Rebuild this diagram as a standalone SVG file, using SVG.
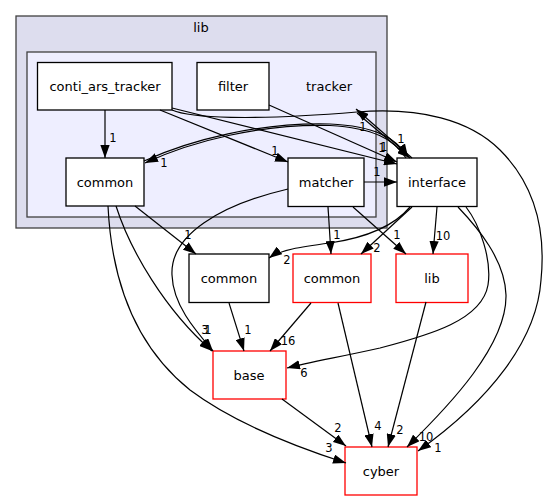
<svg xmlns="http://www.w3.org/2000/svg" width="548" height="500" viewBox="0 0 548 500">
<style>
.n{fill:#ffffff;stroke:#000000;stroke-width:1.3}
.r{fill:#ffffff;stroke:#ff0000;stroke-width:1.3}
.t{font-family:"DejaVu Sans",sans-serif;font-size:13px;fill:#000000;text-anchor:middle}
.l{font-family:"DejaVu Sans",sans-serif;font-size:11.5px;fill:#000000;text-anchor:middle}
.e{fill:none;stroke:#000000;stroke-width:1.2;marker-end:url(#ah)}
</style>
<defs>
<marker id="ah" viewBox="0 0 13 9.3" refX="13" refY="4.65" markerWidth="13" markerHeight="9.3" markerUnits="userSpaceOnUse" orient="auto">
<path d="M0,0 L13,4.65 L0,9.3 z" fill="#000000"/>
</marker>
</defs>
<g id="cluster_lib">
<rect x="16" y="16" width="371" height="212" fill="#ddddee" stroke="#404040" stroke-width="1.3"/>
<text class="t" x="201" y="32">lib</text>
</g>
<g id="cluster_tracker">
<rect x="27" y="52" width="349" height="165" fill="#eeeeff" stroke="#404040" stroke-width="1.3"/>
</g>
<g id="node_tracker"><text class="t" x="329" y="91">tracker</text></g>
<g id="node_conti_ars_tracker"><rect class="n" x="37.5" y="62.5" width="134.5" height="47.5"/><text class="t" x="105" y="91">conti_ars_tracker</text></g>
<g id="node_filter"><rect class="n" x="197" y="62.5" width="72" height="47.5"/><text class="t" x="233" y="91">filter</text></g>
<g id="node_common_inner"><rect class="n" x="66" y="158" width="78" height="48"/><text class="t" x="105" y="187">common</text></g>
<g id="node_matcher"><rect class="n" x="288" y="158" width="76" height="48.5"/><text class="t" x="326" y="187">matcher</text></g>
<g id="node_interface"><rect class="n" x="397" y="158" width="80" height="48.5"/><text class="t" x="437" y="187">interface</text></g>
<g id="node_common_radar"><rect class="n" x="189" y="254" width="80" height="48.5"/><text class="t" x="229" y="283">common</text></g>
<g id="node_common_perception"><rect class="r" x="293" y="254" width="78" height="48.5"/><text class="t" x="332" y="283">common</text></g>
<g id="node_lib"><rect class="r" x="396" y="254" width="72" height="48.5"/><text class="t" x="432" y="283">lib</text></g>
<g id="node_base"><rect class="r" x="213" y="351" width="73" height="48"/><text class="t" x="249" y="380">base</text></g>
<g id="node_cyber"><rect class="r" x="345" y="447" width="72" height="48"/><text class="t" x="381" y="476">cyber</text></g>
<g id="connectors">
<path class="e" d="M105,110 L105,158"/>
<text class="l" x="113" y="142">1</text>
<path class="e" d="M160,110 L288,162"/>
<text class="l" x="275" y="155">1</text>
<path class="e" d="M172,108 L397,164"/>
<text class="l" x="382" y="152">1</text>
<path class="e" d="M269,105 L397,162"/>
<text class="l" x="384" y="151">1</text>
<path class="e" d="M172,110 C190,118 250,121 357,112 C420,107 470,120 500,150 C540,190 545,240 541,280 C537,340 490,400 418,451"/>
<text class="l" x="438" y="452">1</text>
<path class="e" d="M144,161 C190,140 260,122 330,124 C375,126 396,138 408,157"/>
<path class="e" d="M406,158 C394,139 373,128 330,125.5 C262,123.5 192,141 145,163"/>
<text class="l" x="164" y="167">1</text>
<path class="e" d="M357,113 L410,158"/>
<text class="l" x="401" y="143">1</text>
<path class="e" d="M412,158 L356,109"/>
<text class="l" x="363" y="131">1</text>
<path class="e" d="M135,206 L196,254"/>
<text class="l" x="188" y="239">1</text>
<path class="e" d="M116,206 C130,250 165,310 212,351"/>
<text class="l" x="205" y="334">3</text>
<path class="e" d="M108,206 C112,290 140,350 190,390 C230,420 290,445 346,463"/>
<text class="l" x="329" y="452">3</text>
<path class="e" d="M364,182 L397,182"/>
<text class="l" x="377" y="176">1</text>
<path class="e" d="M328,207 L331,254"/>
<text class="l" x="337" y="239">1</text>
<path class="e" d="M353,207 L406,254"/>
<text class="l" x="397" y="239">1</text>
<path class="e" d="M288,189 C220,205 170,235 172,275 C173,305 195,330 213,351"/>
<text class="l" x="208" y="334">1</text>
<path class="e" d="M410,207 C395,225 370,237 330,243 C300,247 280,250 269,258"/>
<text class="l" x="287" y="264">2</text>
<path class="e" d="M412,207 L361,254"/>
<text class="l" x="377" y="252">2</text>
<path class="e" d="M437,207 L433,254"/>
<text class="l" x="443" y="240">10</text>
<path class="e" d="M466,207 C480,225 492,260 488,285 C482,320 430,335 380,348 C340,357 310,362 287,368"/>
<text class="l" x="304" y="377">6</text>
<path class="e" d="M458,207 C478,228 505,260 506,295 C507,345 450,405 407,447"/>
<text class="l" x="426" y="441">10</text>
<path class="e" d="M229,303 L244,351"/>
<text class="l" x="248" y="334">1</text>
<path class="e" d="M311,303 L270,351"/>
<text class="l" x="288" y="345">16</text>
<path class="e" d="M338,303 L372,447"/>
<text class="l" x="378" y="430">4</text>
<path class="e" d="M426,302 L388,447"/>
<text class="l" x="400" y="434">2</text>
<path class="e" d="M282,399 L346,446"/>
<text class="l" x="338" y="432">2</text>
</g>
</svg>
